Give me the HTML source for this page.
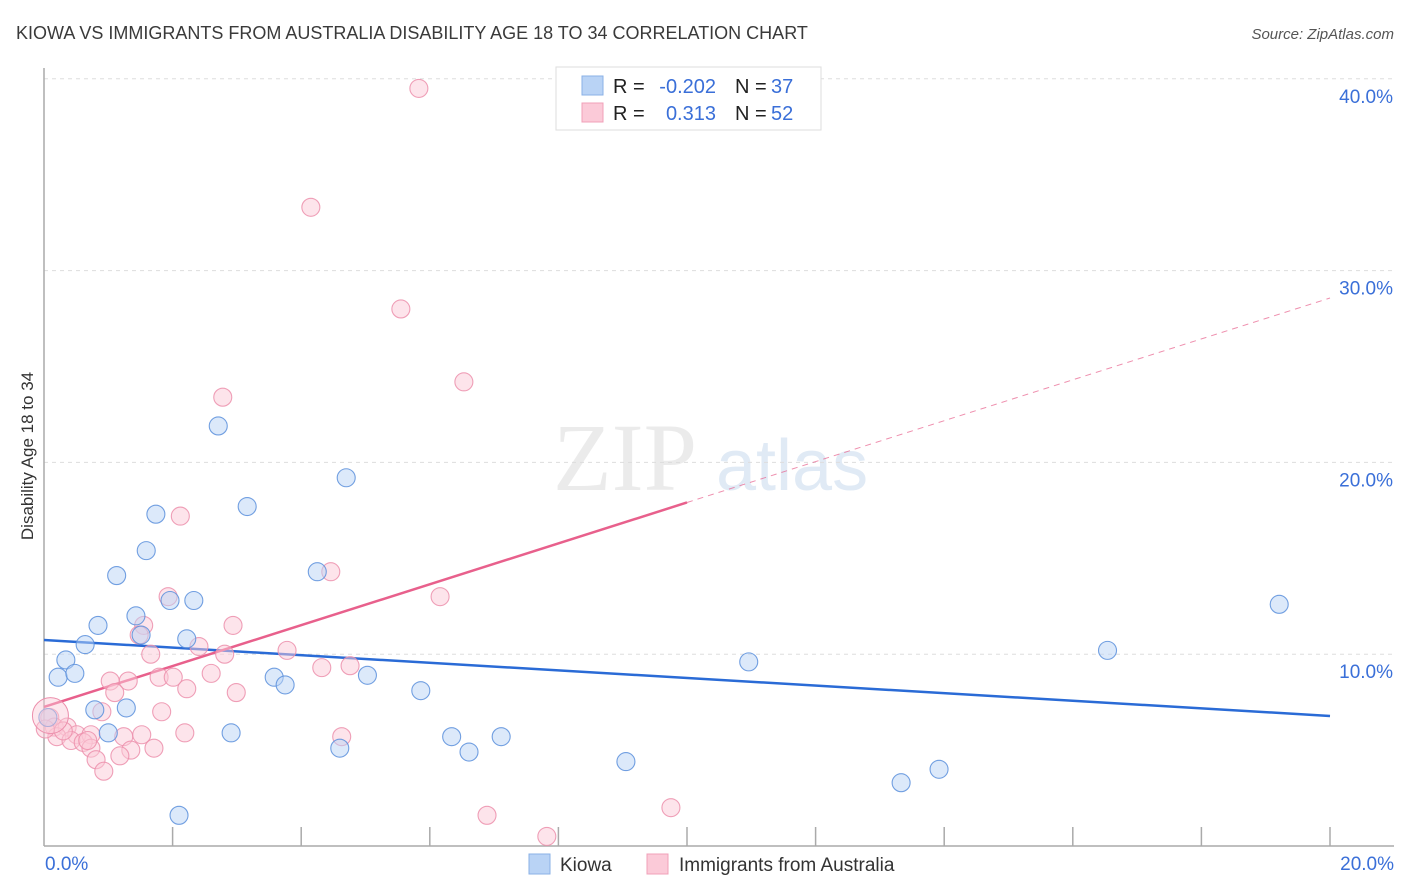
<!DOCTYPE html>
<html><head><meta charset="utf-8">
<style>
body{margin:0;background:#fff;font-family:"Liberation Sans",sans-serif;}
#wrap{position:relative;width:1406px;height:892px;overflow:hidden;}
</style></head>
<body>
<div id="wrap">
<svg id="chart" width="1406" height="892" xmlns="http://www.w3.org/2000/svg">
<text x="16" y="39" font-size="18" fill="#3a3a3a">KIOWA VS IMMIGRANTS FROM AUSTRALIA DISABILITY AGE 18 TO 34 CORRELATION CHART</text>
<text x="1394" y="39" font-size="15" fill="#555" font-style="italic" text-anchor="end">Source: ZipAtlas.com</text>
<text x="33" y="456" font-size="17" fill="#333" text-anchor="middle" transform="rotate(-90 33 456)">Disability Age 18 to 34</text>
<g opacity="0.35">
<text x="553" y="490" font-size="96" font-family="Liberation Serif,serif" fill="#c8c8c8">ZIP</text>
<text x="716" y="490" font-size="72" fill="#a9c4e4">atlas</text>
</g>
<g id="grid"></g>
<g id="axes"></g>
<g id="lines"></g>
<g id="points"></g>
<g>
<rect x="556" y="67" width="265" height="63" fill="#fff" stroke="#ddd"/>
<rect x="582" y="76" width="21" height="19" fill="#b9d3f5" stroke="#8ab0e6"/>
<rect x="582" y="103" width="21" height="19" fill="#fbcad8" stroke="#f0a0b8"/>
<text x="613" y="93" font-size="20" fill="#222">R =</text>
<text x="716" y="93" font-size="20" fill="#3a6fd8" text-anchor="end">-0.202</text>
<text x="735" y="93" font-size="20" fill="#222">N =</text>
<text x="771" y="93" font-size="20" fill="#3a6fd8">37</text>
<text x="613" y="120" font-size="20" fill="#222">R =</text>
<text x="716" y="120" font-size="20" fill="#3a6fd8" text-anchor="end">0.313</text>
<text x="735" y="120" font-size="20" fill="#222">N =</text>
<text x="771" y="120" font-size="20" fill="#3a6fd8">52</text>
</g>
<g>
<rect x="529" y="854" width="21" height="20" fill="#b9d3f5" stroke="#8ab0e6"/>
<text x="560" y="871" font-size="19" fill="#333">Kiowa</text>
<rect x="647" y="854" width="21" height="20" fill="#fbcad8" stroke="#f0a0b8"/>
<text x="679" y="871" font-size="19" fill="#333">Immigrants from Australia</text>
</g>
</svg>
</div>
<script>
const yTicks=[10,20,30,40];
const yTickLabels=["10.0%","20.0%","30.0%","40.0%"];
const xTickLabels=["0.0%","20.0%"];
const kiowaX=[2.71,4.70,3.16,1.74,1.59,1.13,4.25,1.43,1.96,2.33,0.84,1.51,0.64,2.22,0.34,0.22,0.48,3.58,3.75,5.03,5.86,0.79,1.28,1.00,2.91,4.60,6.34,6.61,7.11,9.05,10.96,16.54,19.21,13.33,13.92,2.10,0.06];
const kiowaY=[21.9,19.2,17.7,17.3,15.4,14.1,14.3,12.0,12.8,12.8,11.5,11.0,10.5,10.8,9.7,8.8,9.0,8.8,8.4,8.9,8.1,7.1,7.2,5.9,5.9,5.1,5.7,4.9,5.7,4.4,9.6,10.2,12.6,3.3,4.0,1.6,6.7];
const ausX=[5.83,4.15,5.55,6.53,2.78,2.12,4.46,1.93,6.16,1.55,2.94,1.48,2.41,2.81,3.78,1.66,4.32,4.76,2.60,1.79,1.31,2.01,1.03,2.22,1.10,2.99,0.90,1.83,0.09,0.16,0.36,0.20,0.51,0.73,0.42,0.61,0.73,1.24,1.52,2.19,4.63,1.35,1.71,1.18,0.81,0.93,9.75,6.89,7.82,0.30,0.02,0.68];
const ausY=[39.5,33.3,28.0,24.2,23.4,17.2,14.3,13.0,13.0,11.5,11.5,11.0,10.4,10.0,10.2,10.0,9.3,9.4,9.0,8.8,8.6,8.8,8.6,8.2,8.0,8.0,7.0,7.0,6.7,6.2,6.2,5.7,5.8,5.8,5.5,5.4,5.1,5.7,5.8,5.9,5.7,5.0,5.1,4.7,4.5,3.9,2.0,1.6,0.5,6.0,6.1,5.5];
const kiowaTrend=[10.74,6.78];
const ausTrend=[7.25,28.57];
const NS="http://www.w3.org/2000/svg";
const X0=44,X1=1330,Y0=846,PPY=19.18;
function xs(v){return X0+(X1-X0)*v/20;}
function ys(v){return Y0-v*PPY;}
function mk(tag,attrs,parent){const e=document.createElementNS(NS,tag);for(const k in attrs)e.setAttribute(k,attrs[k]);parent.appendChild(e);return e;}
const grid=document.getElementById('grid'),axes=document.getElementById('axes'),lines=document.getElementById('lines'),pts=document.getElementById('points');
yTicks.forEach((t,i)=>{
 const l=mk('line',{x1:X0,x2:1394,y1:ys(t),y2:ys(t),stroke:'#ddd','stroke-dasharray':'4,4'},grid);
 
 
 const tx=mk('text',{x:1393,y:ys(t)+24,'font-size':19,fill:'#3a6fd8','text-anchor':'end'},axes);
 tx.textContent=yTickLabels[i];
 
 
});
let a=mk('line',{x1:X0,x2:X0,y1:68,y2:Y0,stroke:'#aaa','stroke-width':1.5},axes);


a=mk('line',{x1:X0,x2:1394,y1:Y0,y2:Y0,stroke:'#aaa','stroke-width':1.5},axes);


for(let i=1;i<=10;i++){
 const t=mk('line',{x1:xs(i*2),x2:xs(i*2),y1:827,y2:Y0,stroke:'#aaa','stroke-width':1.5},axes);
 
 
}
[[0,'start',45],[20,'end',1394]].forEach((d,i)=>{
 const t=mk('text',{x:d[2],y:870,'font-size':19,fill:'#3a6fd8','text-anchor':d[1]},axes);
 t.textContent=xTickLabels[i];
 
 
});
function drawPts(X,Y,fill,stroke,name){
 X.forEach((x,i)=>{
  const c=mk('circle',{cx:xs(x),cy:ys(Y[i]),r:9,fill:fill,'fill-opacity':0.5,stroke:stroke,'stroke-width':1.1,'stroke-opacity':0.85},pts);
  
  
 });
}
drawPts(ausX,ausY,'#fbcad8','#ec8fac','australia-point');
drawPts(kiowaX,kiowaY,'#b9d3f5','#5b8fdc','kiowa-point');
const big=mk('circle',{cx:xs(0.1),cy:ys(6.8),r:18,fill:'#fbcad8','fill-opacity':0.45,stroke:'#ec8fac','stroke-width':1},pts);


let l=mk('line',{x1:xs(0),y1:ys(kiowaTrend[0]),x2:xs(20),y2:ys(kiowaTrend[1]),stroke:'#2a6bd6','stroke-width':2.5},lines);


const ausAt=v=>ausTrend[0]+(ausTrend[1]-ausTrend[0])*v/20;
l=mk('line',{x1:xs(0),y1:ys(ausAt(0)),x2:xs(10),y2:ys(ausAt(10)),stroke:'#e8608c','stroke-width':2.5},lines);


l=mk('line',{x1:xs(10),y1:ys(ausAt(10)),x2:xs(20),y2:ys(ausAt(20)),stroke:'#e8608c','stroke-width':1,'stroke-dasharray':'6,5','opacity':0.7},lines);


</script>
</body></html>
